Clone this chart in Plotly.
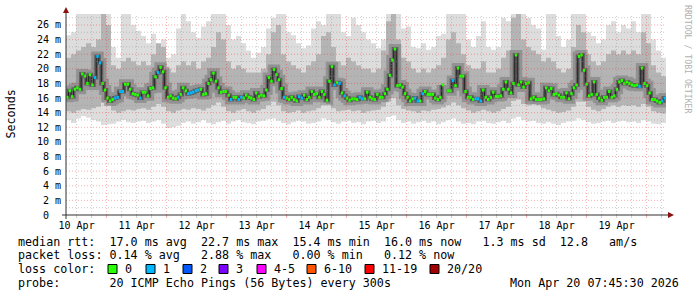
import pandas as pd
import plotly.graph_objects as go

# ---------------- data ----------------
END = pd.Timestamp("2026-04-20 07:45:30")
START = END - pd.Timedelta(days=10)

# hourly median RTT (ms); None = missing sample
median_ms = [
    16.1, 17.0, 16.2, 17.2, 17.4, 17.2, 19.3, 19.0, 18.0, 19.2, 17.8, 18.8, 21.7, 20.8, 18.0, 17.1,
    16.0, 15.6, 15.8, 16.0, 16.1, 16.9, 16.9, 17.9, 17.9, 17.2, 16.6, 16.5, 16.4, 16.0, 16.8, 16.8,
    16.3, 17.3, 17.4, 18.9, 19.5, 20.2, 19.6, 17.4, 16.1, 16.3, 16.0, 15.9, 16.1, 16.5, 17.4,
    17.0, 16.6, 16.7, 16.8, 17.0, 17.1, 17.2, 16.5, 16.6, 18.0, 18.5, 19.4, 18.3, 17.4, 16.8, 16.9,
    16.9, 16.4, 15.8, 16.1, 16.1, 15.8, 16.1, 16.0, 16.4, 16.1, 16.0, 15.8, 16.7, 16.2, 16.4, 16.3,
    17.1, 18.8, 18.3, 19.9, 19.2, 18.5, 17.3, 16.1, 16.0, 15.8, 16.1, 15.8, 15.6, 16.2, 16.0, 16.4,
    15.8, 16.1, 16.9, 16.5, 16.6, 16.1, 16.9, 16.5, 15.7, 18.3, 20.3, 17.8, 18.1, 18.0, 16.7, 16.3,
    16.0, 15.7, 15.9, 15.9, 15.8, 16.1, 15.9, 15.9, 16.8, 16.1, 15.9, 15.8, 16.5, 16.1, 16.1, 16.6,
    17.2, 19.1, 21.2, 22.7, 17.7, 17.8, 17.5, 16.6, 16.1, 15.6, 15.9, 16.0, 15.6, 15.6, 16.6, 16.9,
    16.5, 16.5, 16.5, 16.0, 15.8, 16.1, 17.8, None, 17.0, 17.0, 18.4, 17.7, 20.1, 19.0, 19.0, 16.9,
    16.1, 16.1, 15.8, 15.9, 15.9, 15.6, 17.1, 16.1, 15.8, 16.1, 16.8, 16.2, 16.2, 16.3, 17.2, 18.2,
    17.2, 16.7, 18.0, 21.9, 17.8, 18.2, 17.5, 18.0, 18.1, 15.9, 16.1, 15.8, 15.8, 15.8, 15.9, 17.4,
    17.0, 17.3, 16.5, 16.6, 16.4, 16.1, 16.1, 16.7, 15.9, 16.6, 17.4, 17.8, 21.7, 21.9, 19.8, 17.9,
    16.3, 16.5, 18.2, 16.5, 16.0, 15.7, 16.1, 16.1, 16.9, 16.1, 16.3, 17.2, 18.2, 18.4, 18.0, 18.2,
    18.0, 17.8, 17.7, 17.8, 17.6, 20.1, 18.0, 17.7, 16.7, 15.8, 15.8, 15.6, 15.4, 15.6, 16.0,
]
# lost pings (of 20) per sample
loss_pings = [
    0, 0, 0, 0, 0, 0, 0, 0, 0, 0, 0, 1, 1, 1, 0, 0,
    0, 0, 0, 1, 1, 1, 1, 0, 0, 0, 0, 0, 0, 1, 0, 0,
    0, 0, 0, 0, 1, 0, 0, 0, 0, 0, 0, 0, 1, 0, 0,
    0, 1, 1, 1, 1, 1, 0, 0, 0, 0, 0, 0, 0, 0, 0, 0,
    0, 0, 1, 0, 0, 1, 1, 0, 0, 0, 0, 0, 0, 0, 0, 0,
    0, 0, 0, 0, 0, 0, 0, 1, 0, 0, 0, 0, 0, 1, 1, 0,
    0, 0, 0, 0, 0, 0, 0, 0, 0, 0, 0, 1, 0, 1, 0, 1,
    0, 0, 0, 0, 0, 1, 1, 0, 0, 0, 0, 0, 0, 0, 0, 0,
    0, 0, 0, 0, 0, 0, 0, 0, 0, 0, 0, 1, 1, 0, 1, 0,
    0, 0, 0, 0, 0, 0, 0, 0, 0, 0, 1, 0, 0, 0, 0, 0,
    0, 0, 0, 1, 1, 1, 0, 0, 0, 0, 0, 0, 0, 0, 0, 0,
    0, 0, 0, 0, 0, 0, 0, 0, 0, 0, 0, 0, 0, 0, 0, 0,
    0, 0, 0, 0, 0, 0, 0, 0, 0, 0, 0, 0, 0, 0, 0, 0,
    0, 0, 0, 0, 0, 0, 0, 0, 0, 0, 0, 0, 0, 0, 0, 0,
    0, 0, 0, 0, 1, 0, 0, 0, 0, 0, 0, 0, 0, 1, 1,
]

# smoke envelope, 2-hour columns (ms)
smoke_top = [
    24.6, 25.0, 27.5, 27.5, 27.5, 27.5, 27.5, 27.5, 27.5, 23.0, 21.5, 27.5, 27.5, 26.0, 25.2, 24.5,
    23.5, 24.8, 23.2, 24.0, 21.5, 22.0, 25.5, 27.5, 26.5, 25.0, 24.2, 25.8, 26.5, 27.5, 27.5, 27.5,
    26.0, 24.0, 24.5, 23.5, 22.5, 21.5, 22.2, 23.0, 25.5, 27.0, 27.5, 27.5, 25.0, 24.6, 23.5, 22.8,
    23.2, 25.5, 26.5, 26.0, 27.5, 27.5, 27.5, 25.0, 24.5, 27.0, 26.0, 25.0, 24.0, 23.5, 22.8, 24.0,
    27.5, 27.5, 27.5, 25.5, 25.8, 23.0, 22.8, 23.5, 22.6, 23.0, 24.5, 24.8, 27.5, 27.5, 27.5, 27.5,
    24.0, 23.0, 24.5, 26.5, 23.0, 22.6, 23.0, 27.0, 26.5, 27.5, 27.5, 27.5, 27.0, 26.0, 25.5, 22.6,
    27.5, 27.5, 24.5, 23.0, 24.0, 27.5, 27.5, 27.5, 25.0, 24.5, 23.5, 24.0, 26.0, 26.5, 25.0, 26.0,
    25.5, 26.5, 25.0, 27.5, 27.5, 24.0, 22.5, 21.5,
]
smoke_upper = [
    21.5, 22.0, 22.5, 23.0, 23.5, 23.0, 24.0, 27.5, 26.0, 20.5, 20.0, 21.0, 21.5, 21.0, 20.5, 21.0,
    20.5, 22.0, 23.5, 23.0, 20.0, 19.5, 20.5, 21.0, 20.5, 21.0, 20.0, 21.0, 21.5, 23.0, 25.0, 24.0,
    21.0, 20.0, 20.5, 20.0, 19.5, 19.5, 19.5, 20.0, 22.0, 25.0, 26.0, 22.0, 21.0, 20.5, 20.0, 19.5,
    20.5, 21.0, 22.0, 24.5, 25.0, 23.0, 21.0, 20.5, 21.5, 21.0, 20.5, 20.0, 20.0, 19.5, 20.0, 22.5,
    26.5, 27.5, 24.0, 21.5, 21.0, 20.0, 19.5, 20.0, 19.5, 20.0, 20.5, 21.5, 24.0, 25.0, 23.5, 22.0,
    20.5, 20.0, 20.0, 21.0, 19.5, 19.5, 20.0, 21.5, 22.5, 27.0, 27.5, 24.0, 23.0, 22.5, 22.0, 21.0,
    21.5, 21.0, 20.0, 19.5, 20.0, 23.0, 26.0, 25.0, 22.0, 21.0, 20.5, 21.0, 22.0, 22.5, 22.0, 22.5,
    22.0, 22.5, 22.0, 25.0, 23.5, 20.5, 19.5, 19.0,
]
smoke_lower = [
    14.2, 14.0, 14.3, 14.5, 14.4, 14.6, 14.8, 15.5, 15.0, 14.3, 14.0, 14.2, 14.4, 14.3, 14.5, 14.6,
    14.4, 14.8, 15.2, 14.8, 14.2, 14.0, 14.3, 14.5, 14.4, 14.6, 14.5, 14.3, 14.6, 15.0, 15.4, 14.8,
    14.2, 14.0, 14.3, 14.5, 14.2, 14.0, 14.3, 14.5, 15.0, 15.5, 15.0, 14.2, 14.0, 14.1, 14.3, 14.0,
    14.2, 14.3, 14.6, 15.4, 15.2, 14.6, 14.2, 14.3, 14.4, 14.2, 14.3, 14.0, 14.2, 14.3, 14.4, 14.8,
    15.5, 16.0, 15.0, 14.5, 14.3, 14.2, 14.0, 14.3, 14.2, 14.4, 14.5, 14.7, 15.0, 15.4, 15.0, 14.6,
    14.3, 14.0, 14.2, 14.4, 14.2, 14.0, 14.2, 14.5, 14.8, 15.6, 15.8, 15.2, 15.0, 15.2, 15.0, 14.6,
    14.4, 14.2, 14.0, 14.1, 14.3, 14.8, 15.5, 15.5, 14.8, 14.4, 14.2, 14.5, 14.8, 15.0, 14.8, 15.0,
    14.9, 15.0, 14.8, 15.2, 14.8, 14.2, 14.0, 13.9,
]
smoke_bottom = [
    13.0, 12.6, 13.2, 13.5, 13.3, 13.0, 12.8, 12.3, 12.4, 12.5, 12.8, 13.0, 12.7, 12.6, 12.8, 12.9,
    12.6, 12.8, 13.0, 12.5, 11.9, 12.0, 12.2, 12.6, 12.8, 12.5, 12.7, 13.0, 12.6, 12.4, 12.7, 12.9,
    12.5, 12.8, 13.0, 12.7, 12.6, 12.4, 12.8, 12.9, 13.1, 13.2, 12.9, 12.6, 12.4, 12.7, 12.9, 12.8,
    12.5, 12.6, 12.8, 13.2, 13.0, 12.7, 12.5, 12.8, 12.9, 12.6, 12.7, 12.4, 12.8, 12.9, 12.6, 12.8,
    13.4, 13.6, 13.0, 12.6, 12.8, 12.5, 12.7, 12.9, 12.6, 12.8, 12.4, 12.7, 13.0, 13.2, 12.8, 12.5,
    12.6, 12.4, 12.8, 12.9, 12.6, 12.5, 12.7, 12.9, 12.6, 13.2, 13.4, 13.0, 12.8, 12.9, 12.6, 12.5,
    12.7, 12.5, 12.3, 12.6, 12.8, 12.9, 13.2, 13.0, 12.7, 12.5, 12.6, 12.8, 12.9, 12.6, 12.8, 12.9,
    12.7, 12.8, 12.6, 13.0, 12.8, 12.5, 12.4, 12.6,
]

y_tick_vals = list(range(0, 27, 2))
y_tick_text = ["0\u00a0\u00a0"] + [f"{v}\u00a0m" for v in y_tick_vals[1:]]
day_labels = ["10 Apr", "11 Apr", "12 Apr", "13 Apr", "14 Apr", "15 Apr", "16 Apr", "17 Apr", "18 Apr", "19 Apr"]

loss_bins = [("0", 0, 0, "#26ff00"), ("1", 1, 1, "#00b8ff"), ("2", 2, 2, "#0059ff"), ("3", 3, 3, "#7e00ff"),
             ("4-5", 4, 5, "#ff00ff"), ("6-10", 6, 10, "#ff5500"), ("11-19", 11, 19, "#ff0000"),
             ("20/20", 20, 20, "#a10000")]

stats_line = "median rtt:  17.0 ms avg  22.7 ms max  15.4 ms min  16.0 ms now   1.3 ms sd  12.8   am/s"
loss_line = "packet loss: 0.14 % avg   2.88 % max   0.00 % min   0.12 % now"
probe_line = "probe:       20 ICMP Echo Pings (56 Bytes) every 300s"
stamp = "Mon Apr 20 07:45:30 2026"

# ---------------- geometry ----------------
W, H = 697, 297
L, R, TOP, BOT = 66, 31, 14, 82
PW, PH = W - L - R, H - TOP - BOT
Y_MAX = 27.5
MONO = "DejaVu Sans Mono"


def px(x):
    return (x - L) / PW


def py(y):
    return (H - BOT - y) / PH


def nb(s):
    return s.replace(" ", "\u00a0")


fig = go.Figure()

# smoke columns
n_s = len(smoke_top)
span = END - START
t_s = [START + span * j / n_s for j in range(n_s + 1)]


def band(lo, hi, color):
    fig.add_trace(go.Scatter(x=t_s, y=lo + [lo[-1]], mode="lines", line=dict(width=0, shape="hv"),
                             hoverinfo="skip"))
    fig.add_trace(go.Scatter(x=t_s, y=hi + [hi[-1]], mode="lines", line=dict(width=0, shape="hv"),
                             fill="tonexty", fillcolor=color, hoverinfo="skip"))


band(smoke_bottom, smoke_top, "#dddddd")
band(smoke_lower, smoke_upper, "#b4b4b4")

# median
n_m = len(median_ms)
t_m = [START + span * i / n_m for i in range(n_m + 1)]
med_step = median_ms + [median_ms[-1]]
fig.add_trace(go.Scatter(x=t_m, y=med_step, mode="lines", line=dict(width=10, shape="hv", color="rgba(100,100,100,0.42)"),
                         hoverinfo="skip", connectgaps=False))
fig.add_trace(go.Scatter(x=t_m, y=med_step, mode="lines", line=dict(width=4, shape="hv", color="rgba(50,50,50,0.55)"),
                         hoverinfo="skip", connectgaps=False))
fig.add_trace(go.Scatter(x=t_m, y=med_step, mode="lines", line=dict(width=1, shape="hv", color="#202020"),
                         hoverinfo="skip", connectgaps=False))

for name, lo, hi, col in loss_bins:
    xs, ys = [], []
    for i, (v, lp) in enumerate(zip(median_ms, loss_pings)):
        if v is None or not (lo <= lp <= hi):
            continue
        xs += [t_m[i], t_m[i + 1], None]
        ys += [v, v, None]
    if xs:
        fig.add_trace(go.Scatter(x=xs, y=ys, mode="lines", line=dict(width=3, color=col), hoverinfo="skip"))

# ---------------- grid (drawn over the data, like rrdtool) ----------------
shapes = []
MINOR = "rgba(143,143,143,0.45)"
MAJOR = "rgba(240,16,16,0.35)"
for v in range(1, 28):
    shapes.append(dict(type="line", xref="paper", yref="y", x0=0, x1=1, y0=v, y1=v, layer="above",
                       line=dict(color=MAJOR if v % 2 == 0 else MINOR, width=1, dash="1px,2px")))
t = START.ceil("6h")
while t < END:
    col = MAJOR if t.hour == 0 else MINOR
    shapes.append(dict(type="line", xref="x", yref="paper", x0=t, x1=t, y0=0, y1=1, layer="above",
                       line=dict(color=col, width=1, dash="1px,2px")))
    shapes.append(dict(type="line", xref="x", yref="paper", x0=t, x1=t, y0=py(215), y1=py(218), layer="above",
                       line=dict(color=col, width=1)))
    t += pd.Timedelta(hours=6)

AXIS = "#303030"
ARROW = "#8b1010"
shapes.append(dict(type="line", xref="paper", yref="paper", x0=px(62), x1=px(668), y0=py(215), y1=py(215),
                   line=dict(color=AXIS, width=1), layer="above"))
shapes.append(dict(type="line", xref="paper", yref="paper", x0=px(66), x1=px(66), y0=py(219), y1=py(12),
                   line=dict(color=AXIS, width=1), layer="above"))
shapes.append(dict(type="path", xref="paper", yref="paper", layer="above", fillcolor=ARROW, line=dict(width=0),
                   path=f"M{px(63)},{py(13)} L{px(69)},{py(13)} L{px(66)},{py(7)} Z"))
shapes.append(dict(type="path", xref="paper", yref="paper", layer="above", fillcolor=ARROW, line=dict(width=0),
                   path=f"M{px(668)},{py(212)} L{px(668)},{py(218)} L{px(674)},{py(215)} Z"))

# legend boxes
box_left = [108, 146, 183, 219, 257, 307, 365, 430]
annotations = []
for (name, lo, hi, col), bx in zip(loss_bins, box_left):
    shapes.append(dict(type="rect", xref="paper", yref="paper", x0=px(bx), x1=px(bx + 9), y0=py(273.5), y1=py(264.5),
                       fillcolor=col, line=dict(color="#000000", width=1)))
    annotations.append(dict(text=nb(name), xref="paper", yref="paper", x=px(bx + 15), y=py(269),
                            xanchor="left", yanchor="middle", showarrow=False,
                            font=dict(family=MONO, size=11.7, color="#000")))

rows = [(stats_line, 241.5), (loss_line, 255.3), ("loss color:", 269), (probe_line, 282.7)]
for text, yy in rows:
    annotations.append(dict(text=nb(text), xref="paper", yref="paper", x=px(16), y=py(yy),
                            xanchor="left", yanchor="middle", showarrow=False,
                            font=dict(family=MONO, size=11.7, color="#000")))
annotations.append(dict(text=nb(stamp), xref="paper", yref="paper", x=px(681), y=py(282.7),
                        xanchor="right", yanchor="middle", showarrow=False,
                        font=dict(family=MONO, size=11.7, color="#000")))
annotations.append(dict(text="Seconds", xref="paper", yref="paper", x=px(10), y=py(114.5), textangle=-90,
                        xanchor="center", yanchor="middle", showarrow=False,
                        font=dict(family=MONO, size=11.7, color="#000")))
annotations.append(dict(text=nb("RRDTOOL / TOBI OETIKER"), xref="paper", yref="paper", x=px(688), y=py(59),
                        textangle=90, xanchor="center", yanchor="middle", showarrow=False,
                        font=dict(family=MONO, size=8.2, color="#b0b0b0")))

noons = [pd.Timestamp(f"2026-04-{d:02d} 12:00") for d in range(10, 20)]

fig.update_layout(
    width=W, height=H, margin=dict(l=L, r=R, t=TOP, b=BOT),
    paper_bgcolor="white", plot_bgcolor="white", showlegend=False, hovermode=False,
    shapes=shapes, annotations=annotations,
    xaxis=dict(type="date", range=[START, END], showgrid=False, zeroline=False, showline=False,
               tickvals=noons, ticktext=day_labels, ticks="", ticklabelstandoff=3,
               tickfont=dict(family=MONO, size=10, color="#000")),
    yaxis=dict(range=[0, Y_MAX], showgrid=False, zeroline=False, showline=False,
               tickvals=y_tick_vals, ticktext=y_tick_text, ticks="", ticklabelstandoff=4,
               tickfont=dict(family=MONO, size=10, color="#000")),
)

fig.write_html("out.html")
